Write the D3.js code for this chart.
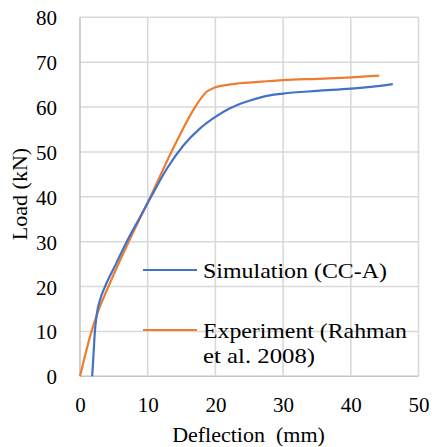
<!DOCTYPE html>
<html>
<head>
<meta charset="utf-8">
<script src="https://cdn.jsdelivr.net/npm/d3@7"></script>
<style>
  html, body { margin: 0; padding: 0; background: #fff; }
  svg { display: block; }
  text { font-family: "Liberation Serif", "Times New Roman", serif; fill: #000; }
</style>
</head>
<body>
<svg id="chart" width="432" height="447"></svg>
<script>
// ---- data ----
const simX = [1.8, 2.0, 2.2, 2.5, 2.95, 3.7, 5.3, 6.9, 8.7, 10.5, 12.8, 15.3, 17.7, 20, 22, 23.6, 25, 28, 30, 35, 40, 43, 46.2];
const simY = [0, 5, 10, 14, 17, 20, 25, 30, 35, 40, 46.2, 51.5, 55.2, 57.8, 59.6, 60.7, 61.4, 62.6, 63.0, 63.6, 64.1, 64.5, 65.1];
const expX = [0, 1.7, 2.46, 4.2, 7.2, 10.4, 13.5, 17.0, 18.0, 18.7, 20, 22, 23.6, 28, 30, 35, 40, 44.2];
const expY = [0, 10, 13.6, 20, 30, 40, 50, 60, 62.2, 63.4, 64.4, 65.0, 65.3, 65.8, 66.0, 66.3, 66.6, 67.0];
const xTicks = [0, 10, 20, 30, 40, 50];
const yTicks = [0, 10, 20, 30, 40, 50, 60, 70, 80];
const seriesNames = ["Simulation (CC-A)", "Experiment (Rahman", "et al. 2008)"];
const xTitle = "Deflection\u00a0 (mm)";
const yTitle = "Load (kN)";

const colors = { sim: "#4472C4", exp: "#ED7D31" };

// ---- layout ----
const svg = d3.select("#chart");
const pL = 80, pR = 418.5, pT = 17.3, pB = 376.3;
const x = d3.scaleLinear().domain([0, 50]).range([pL, pR]);
const y = d3.scaleLinear().domain([0, 80]).range([pB, pT]);

// gridlines
const grid = svg.append("g");
grid.selectAll("line.h").data(yTicks).join("line").attr("class", "h")
  .attr("x1", pL).attr("x2", pR)
  .attr("y1", d => y(d)).attr("y2", d => y(d))
  .attr("stroke", d => d === 0 ? "#c4c4c4" : "#d9d9d9").attr("stroke-width", 1.6);
grid.selectAll("line.v").data(xTicks).join("line").attr("class", "v")
  .attr("y1", pT).attr("y2", pB)
  .attr("x1", d => x(d)).attr("x2", d => x(d))
  .attr("stroke", d => d === 0 ? "#c4c4c4" : "#d9d9d9").attr("stroke-width", 1.6);

// axes (labels only)
const xAxis = d3.axisBottom(x).tickValues(xTicks).tickSize(0).tickPadding(0);
const gx = svg.append("g").attr("transform", `translate(0,${pB})`).call(xAxis);
gx.select(".domain").remove();
gx.attr("font-family", null).attr("font-size", null);
gx.selectAll("text").attr("font-size", 21).attr("dy", null).attr("y", 36);

const yAxis = d3.axisLeft(y).tickValues(yTicks).tickSize(0).tickPadding(0);
const gy = svg.append("g").attr("transform", `translate(${pL},0)`).call(yAxis);
gy.select(".domain").remove();
gy.attr("font-family", null).attr("font-size", null);
gy.selectAll("text").attr("font-size", 21).attr("x", -23).attr("dy", "0.36em");

// lines
const line = d3.line().x(d => x(d[0])).y(d => y(d[1])).curve(d3.curveMonotoneX);
const simData = simX.map((v, i) => [v, simY[i]]);
const expData = expX.map((v, i) => [v, expY[i]]);
svg.append("path").datum(expData).attr("d", line)
  .attr("fill", "none").attr("stroke", colors.exp).attr("stroke-width", 2.2);
svg.append("path").datum(simData).attr("d", line)
  .attr("fill", "none").attr("stroke", colors.sim).attr("stroke-width", 2.2);

// legend
const lg = svg.append("g");
lg.append("line").attr("x1", 143).attr("x2", 197).attr("y1", 270).attr("y2", 270)
  .attr("stroke", colors.sim).attr("stroke-width", 2.2);
lg.append("line").attr("x1", 143).attr("x2", 197).attr("y1", 330).attr("y2", 330)
  .attr("stroke", colors.exp).attr("stroke-width", 2.2);
lg.append("text").attr("x", 203).attr("y", 278).attr("font-size", 22)
  .attr("textLength", 184).attr("lengthAdjust", "spacingAndGlyphs").text(seriesNames[0]);
lg.append("text").attr("x", 203).attr("y", 338).attr("font-size", 22)
  .attr("textLength", 204).attr("lengthAdjust", "spacingAndGlyphs").text(seriesNames[1]);
lg.append("text").attr("x", 203).attr("y", 363).attr("font-size", 22)
  .attr("textLength", 112).attr("lengthAdjust", "spacingAndGlyphs").text(seriesNames[2]);

// axis titles
svg.append("text").attr("x", 248.5).attr("y", 442).attr("text-anchor", "middle")
  .attr("font-size", 22).text(xTitle);
svg.append("text").attr("transform", "translate(27,194) rotate(-90)")
  .attr("text-anchor", "middle").attr("font-size", 22).text(yTitle);
</script>
</body>
</html>
